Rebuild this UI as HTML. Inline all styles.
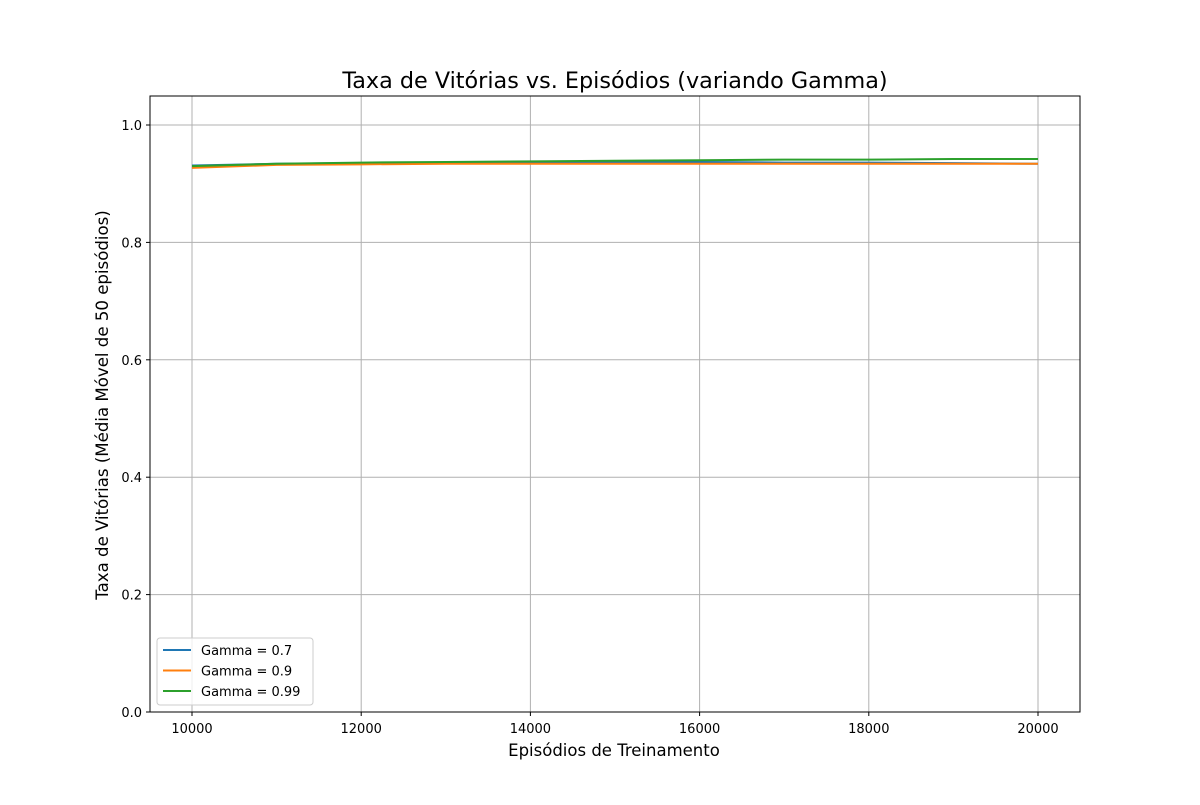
<!DOCTYPE html>
<html><head><meta charset="utf-8"><style>
body{margin:0;background:#fff;font-family:"Liberation Sans","DejaVu Sans",sans-serif;}
</style></head><body>
<svg id="chart" width="1200" height="800" xmlns="http://www.w3.org/2000/svg">
<rect width="1200" height="800" fill="#fff"/>
<text x="615" y="88" text-anchor="middle" font-size="22.3" font-family="DejaVu Sans, Liberation Sans, sans-serif">Taxa de Vitórias vs. Episódios (variando Gamma)</text>
<g id="grid"></g>
<g id="lines"></g>
<rect x="150" y="96" width="930" height="616" fill="none" stroke="#000" stroke-width="1"/>
<g id="ticks" font-size="13" font-family="DejaVu Sans, Liberation Sans, sans-serif"></g>
<text x="614" y="756" text-anchor="middle" font-size="16.5" font-family="DejaVu Sans, Liberation Sans, sans-serif">Episódios de Treinamento</text>
<text transform="translate(108,405) rotate(-90)" text-anchor="middle" font-size="16.6" font-family="DejaVu Sans, Liberation Sans, sans-serif">Taxa de Vitórias (Média Móvel de 50 episódios)</text>
<g id="legend">
<rect x="157" y="638" width="156" height="67" rx="3" fill="#fff" fill-opacity="0.8" stroke="#ccc"/>
</g>
</svg>
<script>
const xValues=[10000,11000,12000,13000,14000,15000,16000,17000,18000,19000,20000];
const gamma07=[0.931,0.934,0.935,0.936,0.937,0.937,0.937,0.936,0.936,0.935,0.934];
const gamma09=[0.927,0.932,0.933,0.934,0.934,0.934,0.934,0.934,0.934,0.934,0.934];
const gamma099=[0.930,0.934,0.936,0.937,0.938,0.939,0.940,0.941,0.941,0.942,0.942];
const xTicks=[10000,12000,14000,16000,18000,20000];
const yTicks=[0.0,0.2,0.4,0.6,0.8,1.0];
const seriesNames=["Gamma = 0.7","Gamma = 0.9","Gamma = 0.99"];
const NS="http://www.w3.org/2000/svg";
const X=v=>192+(v-10000)*(1038-192)/10000;
const Y=v=>712-v*587;
const grid=document.getElementById('grid'),ticks=document.getElementById('ticks'),lines=document.getElementById('lines'),legend=document.getElementById('legend');
function mk(t,a,p){const e=document.createElementNS(NS,t);for(const k in a)e.setAttribute(k,a[k]);p.appendChild(e);return e;}
xTicks.forEach(t=>{const x=X(t);
const g=mk('line',{x1:x,x2:x,y1:96,y2:712,stroke:'#b0b0b0','stroke-width':1},grid);


mk('line',{x1:x,x2:x,y1:712,y2:716,stroke:'#000'},ticks);
const l=mk('text',{x:x,y:733,'text-anchor':'middle'},ticks);l.textContent=t;

});
yTicks.forEach(t=>{const y=Y(t);
const g=mk('line',{x1:150,x2:1080,y1:y,y2:y,stroke:'#b0b0b0','stroke-width':1},grid);


mk('line',{x1:146,x2:150,y1:y,y2:y,stroke:'#000'},ticks);
const l=mk('text',{x:142,y:y+5,'text-anchor':'end'},ticks);l.textContent=t.toFixed(1);

});
const series=[gamma07,gamma09,gamma099],colors=['#1f77b4','#ff7f0e','#2ca02c'];
series.forEach((s,i)=>{const p=mk('polyline',{points:s.map((v,j)=>X(xValues[j])+','+Y(v)).join(' '),fill:'none',stroke:colors[i],'stroke-width':2},lines);


const y=650+i*20.5;
const ll=mk('line',{x1:163,x2:191,y1:y,y2:y,stroke:colors[i],'stroke-width':2},legend);


const t=mk('text',{x:201,y:y+5,'font-size':13,'font-family':'DejaVu Sans, Liberation Sans, sans-serif'},legend);t.textContent=seriesNames[i];

});
</script>
</body></html>
